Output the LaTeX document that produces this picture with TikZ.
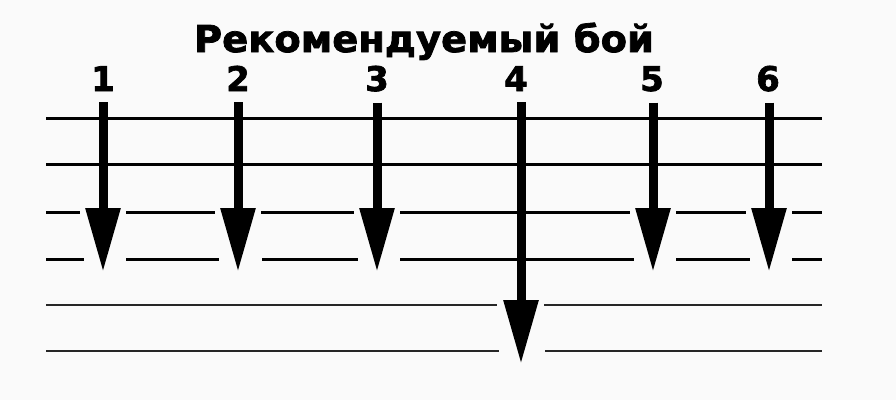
\documentclass[tikz,border=0pt]{standalone}
\usepackage{fontspec}
\setmainfont{DejaVu Sans}
\newfontfamily\heavyfont[FakeBold=2]{DejaVu Sans Bold}
\usepackage{tikz}
\usetikzlibrary{arrows.meta}

\tikzset{
  staff/.style={line width=3pt, black},
  thinstaff/.style={line width=2pt, black!85},
  strum/.style={line width=9pt, black, shorten <=11pt, -{Triangle[length=64pt,width=33pt]}},
  beat/.style={font=\fontsize{34}{36}\heavyfont, inner sep=0pt, anchor=base}
}

\begin{document}
\begin{tikzpicture}[x=1pt,y=-1pt]
			\useasboundingbox[fill=black!2] (0,0) rectangle (896,400);
			
			\node[font=\fontsize{37}{40}\heavyfont, inner sep=0pt, anchor=base, xscale=1.04] (title) at (424,52) {Рекомендуемый бой};
			
			\node[beat] (n1) at (103,91) {1};
			\node[beat] (n2) at (238,91) {2};
			\node[beat] (n3) at (377,91) {3};
			\node[beat] (n4) at (516,91) {4};
			\node[beat] (n5) at (652,91) {5};
			\node[beat] (n6) at (768,91) {6};
			
			\coordinate (t1) at (103,272);
			\coordinate (t2) at (238,272);
			\coordinate (t3) at (377,272);
			\coordinate (t4) at (521,364);
			\coordinate (t5) at (653,272);
			\coordinate (t6) at (769,272);
			
			% strings
			\draw[staff] (46,118) -- (822,118);
			\draw[staff] (46,164) -- (822,164);
			\draw[staff] (46,212) -- (80,212) (126,212) -- (215,212) (261,212) -- (354,212)
			             (400,212) -- (630,212) (676,212) -- (746,212) (792,212) -- (822,212);
			\draw[staff] (46,259) -- (84,259) (126,259) -- (219,259) (262,259) -- (358,259)
			             (400,259) -- (634,259) (676,259) -- (750,259) (792,259) -- (822,259);
			\draw[thinstaff] (46,305) -- (497,305) (544,305) -- (822,305);
			\draw[thinstaff] (46,351) -- (499,351) (545,351) -- (822,351);
			
			\draw[strum] (n1.south) -- (t1);
			\draw[strum] (n2.south) -- (t2);
			\draw[strum] (n3.south) -- (t3);
			\draw[strum] (n4.south -| t4) -- (t4);
			\draw[strum] (n5.south -| t5) -- (t5);
			\draw[strum] (n6.south -| t6) -- (t6);
			\end{tikzpicture}
\end{document}
